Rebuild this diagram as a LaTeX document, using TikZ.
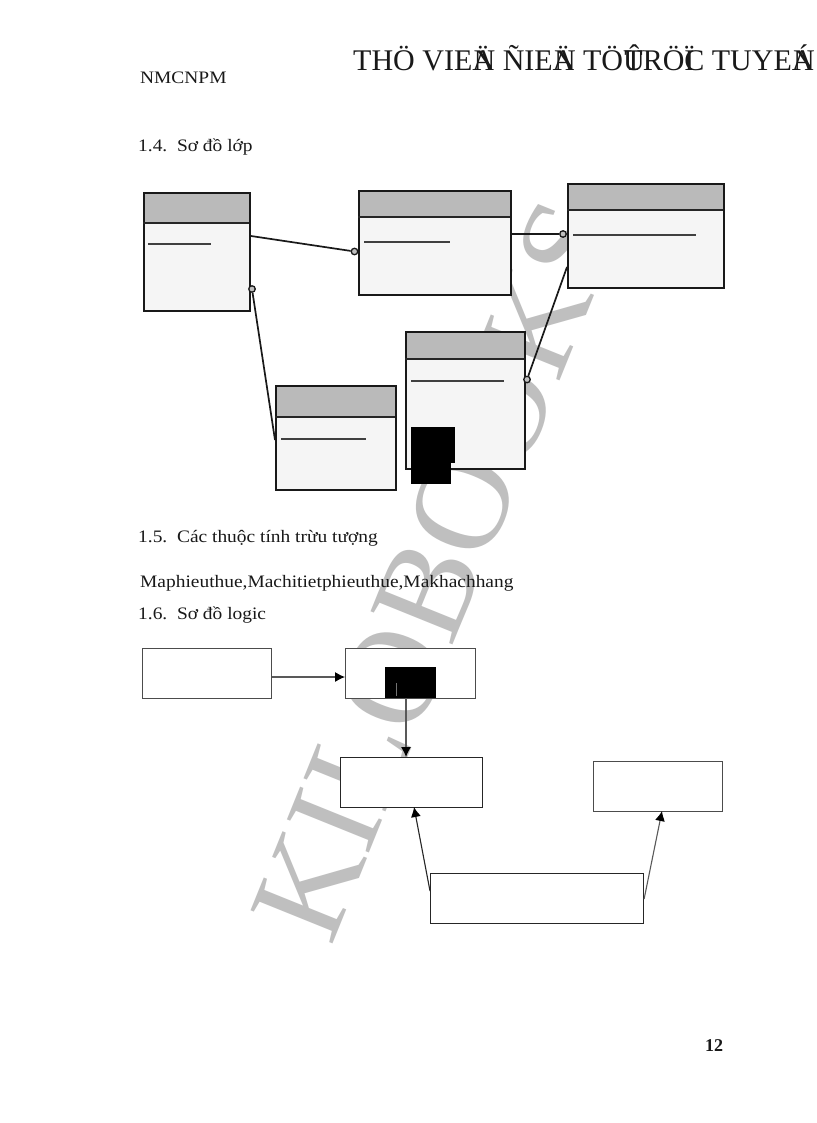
\documentclass[tikz,border=0pt]{standalone}
\usepackage{fontspec}
\usetikzlibrary{arrows.meta}
\setmainfont{Liberation Serif}
\newfontfamily\widefont[FakeStretch=1.11]{Liberation Serif}
\newcommand{\ovl}[1]{\kern-#1em\relax}
\begin{document}
\begin{tikzpicture}[x=1pt,y=-1pt,
  txt/.style={anchor=base west,inner sep=0pt,font=\widefont\fontsize{17.5}{20}\selectfont,text=black!90},
  hdr/.style={fill=black!27,draw=none},
  cls/.style={fill=black!4,draw=black!90,line width=2pt},
  sep/.style={draw=black!85,line width=1.5pt},
  attr/.style={draw=black!75,line width=1.4pt},
  link/.style={draw=black!90,line width=1.7pt},
  ball/.style={circle,draw=black!90,fill=black!25,line width=1.3pt,minimum size=6.5pt,inner sep=0pt},
  lbox/.style={draw=black!70,fill=white,line width=1.1pt,inner sep=0pt},
  arr/.style={draw=black!65,line width=1.1pt,-{Latex[length=10pt,width=10pt,black]}},
  ink/.style={fill=black,draw=none},
  wm/.style={text=black!25,inner sep=0pt,font=\fontsize{135}{135}\selectfont}]
\path[use as bounding box,fill=white] (0,0) rectangle (816,1123);
\node[wm,rotate=68,anchor=base west] (wm) at (331,948) {KILOBOOKS};
\node[txt] (nm) at (140,84) {NMCNPM};
\node[txt,font=\fontsize{30}{32}\selectfont] (title) at (353,71) {THÖ VIEÄ\ovl{.68}N ÑIEÄ\ovl{.68}N TÖÛ\ovl{.68}TRÖÏ\ovl{.333}C TUYEÁ\ovl{.68}N};
\node[txt] (s14) at (138,152) {1.4.\ \ Sơ đồ lớp};
\node[txt] (s15) at (138,542) {1.5.\ \ Các thuộc tính trừu tượng};
\node[txt] (attrs) at (140,587) {Maphieuthue,Machitietphieuthue,Makhachhang};
\node[txt] (s16) at (138,619) {1.6.\ \ Sơ đồ logic};
\node[txt,font=\fontsize{18}{20}\selectfont\bfseries] (pg) at (705,1051) {12};
% class boxes
\foreach \n/\l/\t/\r/\b/\m/\a/\e/\y in {c1/143/192/249/310/223/148/211/244,c2/358/190/510/294/217/364/450/242,c3/567/183/723/287/210/573/696/235,c4/405/331/524/468/359/411/504/381,c5/275/385/395/489/417/281/366/439}{
  \fill[cls,draw=none] (\l,\t) rectangle (\r,\b);
  \fill[hdr] (\l,\t) rectangle (\r,\m);
  \node[cls,fill=none,inner sep=0pt,minimum width={(\r-\l)*1pt},minimum height={(\b-\t)*1pt},anchor=north west] (\n) at (\l,\t) {};
  \draw[sep] (\l,\m) -- (\r,\m);
  \draw[attr] (\a,\y) -- (\e,\y);
}
% class links
\node[ball] (b1) at (354.5,251.5) {};
\node[ball] (b2) at (252,289) {};
\node[ball] (b3) at (563,234) {};
\node[ball] (b4) at (527,379.5) {};
\coordinate (p1) at (c1.north east|-0,236);
\coordinate (p2) at (c5.north west|-0,440);
\coordinate (p3) at (c2.north east|-0,234);
\coordinate (p4) at (c3.north west|-0,267);
\draw[link] (p1) -- (b1);
\draw[link] (b2) -- (p2);
\draw[link] (p3) -- (b3);
\draw[link] (p4) -- (b4);
% black patches
\fill[ink] (411,427) rectangle (455,463);
\fill[ink] (411,463) rectangle (451,484);
% logic boxes
\node[lbox,minimum width=129pt,minimum height=50pt,anchor=north west] (l1) at (142,648) {};
\node[lbox,minimum width=130pt,minimum height=50pt,anchor=north west] (l2) at (345,648) {};
\node[lbox,minimum width=142pt,minimum height=50pt,anchor=north west,draw=black!85] (l3) at (340,757) {};
\node[lbox,minimum width=129pt,minimum height=50pt,anchor=north west] (l4) at (593,761) {};
\node[lbox,minimum width=213pt,minimum height=50pt,anchor=north west,draw=black!85] (l5) at (430,873) {};
\fill[ink] (385,667) rectangle (436,698);
\draw[draw=black!55,line width=0.7pt] (396,683) -- (396,696);
\coordinate (q1) at (l1.north east|-0,677);
\coordinate (q2) at (l2.north west|-0,677);
\coordinate (q3) at (406,698);
\coordinate (q4) at (406,757);
\coordinate (q5) at (l5.north west|-0,891);
\coordinate (q6) at (414,807);
\coordinate (q7) at (l5.north east|-0,899);
\coordinate (q8) at (662,811);
\draw[arr] (q1) -- (q2);
\draw[arr] (q3) -- (q4);
\draw[arr,draw=black!85] (q5) -- (q6);
\draw[arr] (q7) -- (q8);
\end{tikzpicture}
\end{document}
